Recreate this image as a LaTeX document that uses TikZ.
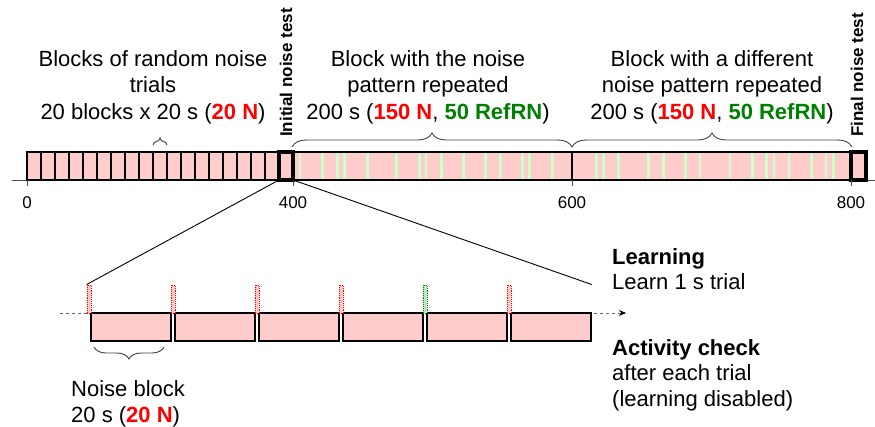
\documentclass[tikz,border=0pt]{standalone}
\usepackage{fontspec}
\setmainfont{Liberation Sans}
\usepackage{xcolor}
\usetikzlibrary{positioning,arrows.meta,decorations.pathreplacing}
\definecolor{noise}{HTML}{FFCCCC}
\definecolor{refrn}{HTML}{CCFFCC}
\definecolor{nred}{HTML}{FF0000}
\definecolor{ngreen}{HTML}{008000}
\newcommand{\cntN}[1]{\textcolor{nred}{\textbf{#1}}}
\newcommand{\cntR}[1]{\textcolor{ngreen}{\textbf{#1}}}

\begin{document}
\begin{tikzpicture}[x=1pt,y=-1pt,
  every node/.style={inner sep=0pt},
  big/.style={font=\fontsize{22}{26.5}\selectfont},
  side/.style={font=\fontsize{22}{25.5}\selectfont,align=left,anchor=north west},
  vlab/.style={font=\fontsize{17}{20}\selectfont\bfseries,rotate=90,anchor=west},
  tlab/.style={font=\fontsize{17}{20}\selectfont,anchor=base},
  brc/.style={decorate,decoration={brace,amplitude=#1},line width=0.9pt,black!75},
  brc/.default=14pt,
  trialbox/.style={draw,fill=noise,line width=1.7pt,minimum width=80pt,minimum height=28pt},
  learnmark/.style={draw=#1,fill=#1!22,densely dotted,line width=0.9pt,minimum width=4pt,minimum height=28pt},
  learnmark/.default=nred]
\useasboundingbox (0,0) rectangle (875,426);
% headings
\node[big,align=center,anchor=north] (txtrand) at (153,50) {Blocks of random noise\\trials\\20 blocks x 20 s (\cntN{20 N})};
\node[big,align=center,anchor=north] (txtrep) at (428,50) {Block with the noise\\pattern repeated\\200 s (\cntN{150 N}, \cntR{50 RefRN})};
\node[big,align=center,anchor=north] (txtdiff) at (712,50) {Block with a different\\noise pattern repeated\\200 s (\cntN{150 N}, \cntR{50 RefRN})};
\node[vlab] (inittest) at (286,137) {Initial noise test};
\node[vlab] (finaltest) at (857,137) {Final noise test};
% braces
\draw[brc=7pt] (153,145) -- (167,145);
\draw[brc] (292,147) -- (572,147);
\draw[brc] (572,147) -- (852,147);
% time axis
\draw[black!70,line width=0.9pt] (12,180) -- (875,180);
% session bar
\fill[noise] (27,152) rectangle (851,180);
\foreach \x in {300,322.7,337.7,344.3,367.3,396.7,419.3,426,441.3,463.3,485.7,500.7,522.3,529.3,552.7,
  596.7,603.3,618.3,648.3,663.3,685.7,700,730,752.3,766.7,774,789,811.7,826,833.3}
  \draw[refrn,line width=2.6pt] (\x,153) -- (\x,179);
\foreach \i in {0,...,17}
  \draw[line width=1.4pt] ({27+14*\i},152) rectangle ({41+14*\i},180);
\draw[line width=2.3pt] (293,152) rectangle (851,180);
\draw[line width=2.7pt] (572,152) -- (572,180);
\coordinate (initsw) at (279,180);
\coordinate (initne) at (293,152);
\coordinate (initse) at (293,180);
\draw[line width=3.4pt,fill=noise] (initsw) rectangle (initne);
\draw[line width=3.4pt,fill=noise] (851,152) rectangle (866,180);
\foreach \x/\v in {27/0,293/400,572/600,851/800}{
  \draw[black!70,line width=0.9pt] (\x,180) -- (\x,186);
  \node[tlab] at (\x,208) {\v};
}
% zoomed trials
\coordinate (dstart) at (60,313);
\coordinate (dend) at (626,313);
\draw[black!60,line width=1pt,dash pattern=on 3pt off 3pt,-{Stealth[length=7pt,width=6pt,black]}] (dstart) -- (dend);
\foreach \i in {0,...,5}
  \node[trialbox] (box\i) at ({131+84*\i},327) {};
\foreach \i/\col in {0/nred,1/nred,2/nred,3/nred,4/ngreen,5/nred}
  \node[learnmark=\col] (learn\i) at ({89+84*\i},299) {};
\coordinate (zoomne) at (box5.east |- learn0.north);
\draw[line width=0.9pt] (initsw) -- (learn0.north west);
\draw[line width=0.9pt] (initse) -- (zoomne);
\draw[brc=12pt,decoration={mirror}] (94,347) -- (164,347);
\node[big,align=left,anchor=north west] (noiseblk) at (71,380) {Noise block\\20 s (\cntN{20 N})};
% side notes
\node[side] (learnlab) at (612,248) {\textbf{Learning}\\Learn 1 s trial};
\node[side] (checklab) at (612,339) {\textbf{Activity check}\\after each trial\\(learning disabled)};
\end{tikzpicture}
\end{document}
